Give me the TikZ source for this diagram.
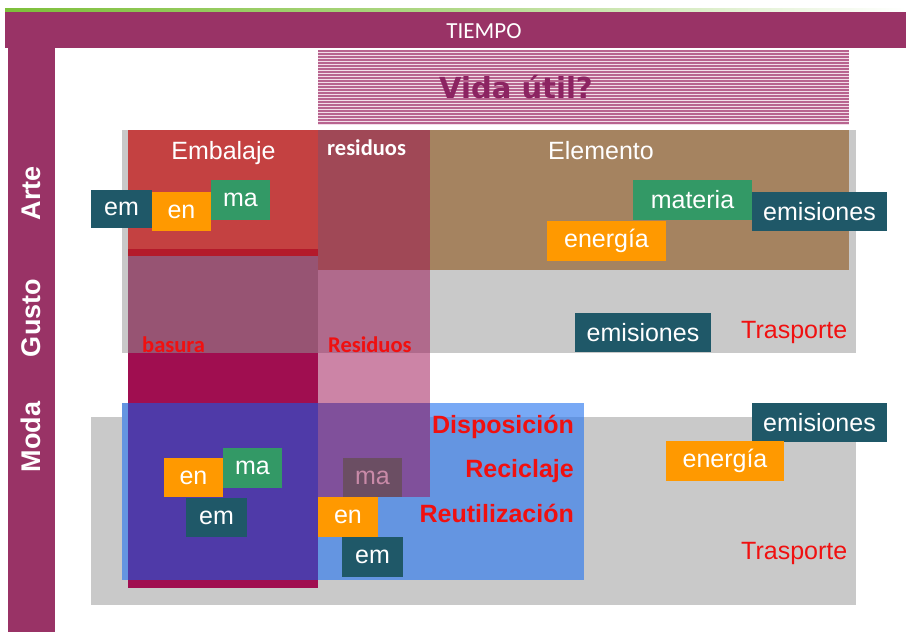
\documentclass[tikz,border=0pt]{standalone}
\usepackage{fontspec}
\setmainfont{Liberation Sans}
\newfontfamily\calib{Carlito}
\newfontfamily\dejab{DejaVu Sans}
\definecolor{frame}{HTML}{993366}
\definecolor{grayb}{HTML}{C9C9C9}
\definecolor{redb}{HTML}{C44141}
\definecolor{redstrip}{HTML}{B41A2A}
\definecolor{mauve}{HTML}{975473}
\definecolor{crimson}{HTML}{A00E50}
\definecolor{brown}{HTML}{A58360}
\definecolor{roseA}{HTML}{A04856}
\definecolor{roseB}{HTML}{B06A8C}
\definecolor{roseC}{HTML}{CC84A6}
\definecolor{roseD}{HTML}{80509B}
\definecolor{blueb}{HTML}{6495E1}
\definecolor{bluew}{HTML}{78A9F5}
\definecolor{indigo}{HTML}{4F3AA8}
\definecolor{tealb}{HTML}{1F5868}
\definecolor{orangeb}{HTML}{FF9900}
\definecolor{greenb}{HTML}{339966}
\definecolor{mabox}{HTML}{6B4E63}
\definecolor{matext}{HTML}{C98AA8}
\definecolor{redtxt}{HTML}{F01010}
\definecolor{vida}{HTML}{8C2462}
\definecolor{stripeA}{HTML}{B8648F}
\definecolor{stripeB}{HTML}{F2DDE8}
\definecolor{greenline}{HTML}{7DBF3A}
\begin{document}
\begin{tikzpicture}[x=1pt,y=-1pt]
\tikzset{
  tag/.style={rectangle, inner sep=0pt, text=white, font=\fontsize{25}{28}\selectfont},
  redbold/.style={text=redtxt, font=\bfseries\fontsize{25}{28}\selectfont, inner sep=0pt},
  redlab/.style={text=redtxt, font=\calib\bfseries\fontsize{22.5}{26}\selectfont, inner sep=0pt, anchor=base west},
  sidelab/.style={text=white, font=\bfseries\fontsize{27}{30}\selectfont, rotate=90, inner sep=0pt},
  headlab/.style={text=white, font=\fontsize{25}{28}\selectfont, inner sep=0pt, anchor=base},
  traslab/.style={text=redtxt, font=\fontsize{25}{28}\selectfont, inner sep=0pt, anchor=base west}
}
\useasboundingbox (0,0) rectangle (906,632);
\fill[white] (0,0) rectangle (906,632);
% green top line
\shade[left color=greenline, right color=white, middle color=greenline!60] (5,8) rectangle (906,11);
% purple frame
\fill[frame] (5,12) rectangle (906,48);
\fill[frame] (8,12) rectangle (55,632);
\node[text=white, font=\calib\fontsize{23}{26}\selectfont, inner sep=0pt] (tiempo) at (484,31) {TIEMPO};
% hatch
\fill[stripeB] (318,50) rectangle (849,125);
\foreach \yy in {51,54,...,124} {
  \draw[stripeA, line width=1.2pt] (318,\yy) -- (849,\yy);
}
\node[text=vida, font=\dejab\bfseries\fontsize{29}{32}\selectfont, inner sep=0pt, anchor=base] (vidautil) at (516,98) {Vida útil?};
% gray boxes
\fill[grayb] (122,130) rectangle (856,353);
\fill[grayb] (91,417) rectangle (856,605);
% brown elemento
\fill[brown] (430,130) rectangle (849,270);
% embalaje column
\fill[redb] (128,130) rectangle (318,249);
\fill[redstrip] (128,249) rectangle (318,256);
\fill[mauve] (128,256) rectangle (318,353);
\fill[crimson] (128,353) rectangle (318,588);
% blue box
\fill[blueb] (122,403) rectangle (584,580);
\fill[bluew] (318,403) rectangle (584,417);
\fill[indigo] (128,403) rectangle (318,580);
% residuos column
\fill[roseA] (318,130) rectangle (430,270);
\fill[roseB] (318,270) rectangle (430,353);
\fill[roseC] (318,353) rectangle (430,403);
\fill[roseD] (318,403) rectangle (430,497);
% headings
\node[headlab] (embalaje) at (223.5,159) {Embalaje};
\node[headlab] (elemento) at (601,159) {Elemento};
\node[text=white, font=\calib\bfseries\fontsize{22.5}{26}\selectfont, inner sep=0pt, anchor=base west] (residuosA) at (327,155) {residuos};
\node[redlab] (basura) at (142,352) {basura};
\node[redlab] (residuosB) at (328,352) {Residuos};
% side labels
\node[sidelab] (arte) at (31,193) {Arte};
\node[sidelab] (gusto) at (31,318) {Gusto};
\node[sidelab] (moda) at (31,437) {Moda};
% Arte boxes
\node[tag, fill=tealb, minimum width=61pt, minimum height=38pt] (em1) at (121.5,209) {em};
\node[tag, fill=orangeb, minimum width=59pt, minimum height=39pt] (en1) at (181.5,211.5) {en};
\node[tag, fill=greenb, minimum width=59pt, minimum height=40pt] (ma1) at (240.5,200) {ma};
\node[tag, fill=greenb, minimum width=119pt, minimum height=40pt] (materia) at (692.5,200) {materia};
\node[tag, fill=tealb, minimum width=135pt, minimum height=39pt] (emis1) at (819.5,211.5) {emisiones};
\node[tag, fill=orangeb, minimum width=119pt, minimum height=40pt] (energia1) at (606.5,241) {energía};
% Gusto
\node[tag, fill=tealb, minimum width=136pt, minimum height=39pt] (emis2) at (643,332.5) {emisiones};
\node[traslab] (trasp1) at (741,338) {Trasporte};
% Moda left
\node[tag, fill=orangeb, minimum width=59pt, minimum height=39pt] (en2) at (193.5,477.5) {en};
\node[tag, fill=greenb, minimum width=59pt, minimum height=40pt] (ma2) at (252.5,468) {ma};
\node[tag, fill=tealb, minimum width=61pt, minimum height=39pt] (em2) at (216.5,517.5) {em};
% Moda middle
\node[tag, fill=mabox, text=matext, minimum width=59pt, minimum height=39pt] (ma3) at (372.5,477.5) {ma};
\node[tag, fill=orangeb, minimum width=60pt, minimum height=40pt] (en3) at (348,517) {en};
\node[tag, fill=tealb, minimum width=61pt, minimum height=40pt] (em3) at (372.5,557) {em};
% red bold labels
\node[redbold, anchor=base east] (dispo) at (574,433) {Disposición};
\node[redbold, anchor=base east] (recic) at (574,477) {Reciclaje};
\node[redbold, anchor=base east] (reuti) at (574,522) {Reutilización};
% Moda right
\node[tag, fill=tealb, minimum width=135pt, minimum height=39pt] (emis3) at (819.5,422.5) {emisiones};
\node[tag, fill=orangeb, minimum width=118pt, minimum height=40pt] (energia3) at (725,461) {energía};
\node[traslab] (trasp2) at (741,559) {Trasporte};
\end{tikzpicture}
\end{document}
